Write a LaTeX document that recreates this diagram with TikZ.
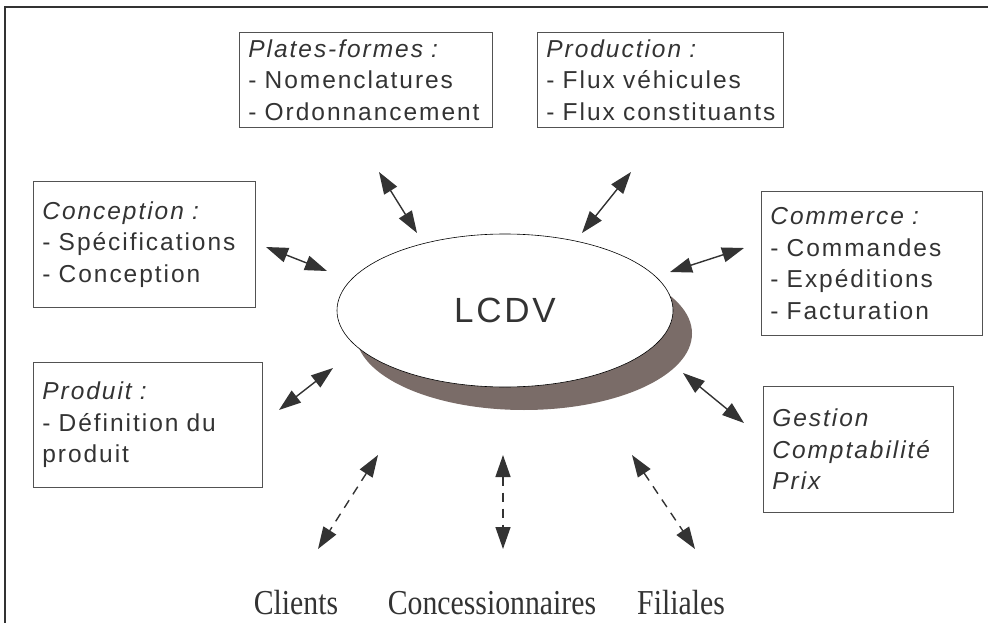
\documentclass[tikz,border=0pt]{standalone}
\usepackage{fontspec}
\usepackage{xcolor}
\usetikzlibrary{positioning, arrows.meta, shapes.geometric, shadows}
\newfontfamily\boxfont[LetterSpace=8]{Liberation Sans}
\newfontfamily\partfont[FakeStretch=0.85]{Liberation Serif}
\definecolor{ombre}{RGB}{122,108,104}
\definecolor{trait}{RGB}{51,51,51}
\tikzset{
  cadre/.style={draw=trait!85, line width=0.8pt, anchor=north west, align=left,
    inner xsep=9pt, inner ysep=0pt, text=trait, font=\boxfont\fontsize{24.5}{31.5}\selectfont},
  fleche/.style={trait, line width=1.4pt,
    {Triangle[length=22pt,width=15pt]}-{Triangle[length=22pt,width=15pt]}},
  pointille/.style={fleche, dash pattern=on 9pt off 7pt},
  partie/.style={anchor=base, text=trait, font=\partfont\fontsize{35}{40}\selectfont}
}

\begin{document}
\begin{tikzpicture}[x=1pt, y=-1pt]
            \useasboundingbox (0,0) rectangle (988,623);
            \draw[trait, line width=2pt] (5,623) -- (5,7) -- (988,7);

            %Nodes
            \node[cadre, text width=235pt, minimum height=95pt] at (239,32) (plates)
                {\textit{Plates-formes :}\\- Nomenclatures\\- Ordonnancement};
            \node[cadre, text width=228pt, minimum height=95pt] at (537,32) (prod)
                {\textit{Production :}\\- Flux véhicules\\- Flux constituants};
            \node[cadre, text width=204pt, minimum height=126pt] at (33,181) (concep)
                {\textit{Conception :}\\- Spécifications\\- Conception};
            \node[cadre, text width=203pt, minimum height=144pt] at (761,191) (commerce)
                {\textit{Commerce :}\\- Commandes\\- Expéditions\\- Facturation};
            \node[cadre, text width=211pt, minimum height=125pt] at (33,362) (produit)
                {\textit{Produit :}\\- Définition du\\produit};
            \node[cadre, text width=172pt, minimum height=126pt] at (763,386) (gestion)
                {\textit{Gestion}\\\textit{Comptabilité}\\\textit{Prix}};

            \node[draw=black, line width=0.6pt, fill=white, ellipse, minimum width=336pt,
                minimum height=153pt, text=trait,
                drop shadow={shadow xshift=19pt, shadow yshift=-23pt, fill=ombre, opacity=1},
                font=\boxfont\fontsize{35}{40}\selectfont] at (505,310.5) (lcdv) {LCDV};

            \node[partie] at (296,614) (clients) {Clients};
            \node[partie] at (492,614) (conc) {Concessionnaires};
            \node[partie] at (681,614) (filiales) {Filiales};

            %Arrow ends
            \coordinate (pf1) at (379,172); \coordinate (pf2) at (417,233);
            \coordinate (pr1) at (631,172); \coordinate (pr2) at (582,233);
            \coordinate (co1) at (266,247); \coordinate (co2) at (327,271);
            \coordinate (cm1) at (744,248); \coordinate (cm2) at (670,272);
            \coordinate (pd1) at (279,410); \coordinate (pd2) at (333,368);
            \coordinate (ge1) at (683,373); \coordinate (ge2) at (744,423);
            \coordinate (cl1) at (378,455); \coordinate (cl2) at (318,549);
            \coordinate (cs1) at (503,455); \coordinate (cs2) at (503,549);
            \coordinate (fi1) at (632,455); \coordinate (fi2) at (695,549);

            %Lines
            \draw[fleche] (pf1) -- (pf2);
            \draw[fleche] (pr1) -- (pr2);
            \draw[fleche] (co1) -- (co2);
            \draw[fleche] (cm1) -- (cm2);
            \draw[fleche] (pd1) -- (pd2);
            \draw[fleche] (ge1) -- (ge2);
            \draw[pointille] (cl1) -- (cl2);
            \draw[pointille] (cs1) -- (cs2);
            \draw[pointille] (fi1) -- (fi2);
        \end{tikzpicture}
\end{document}
